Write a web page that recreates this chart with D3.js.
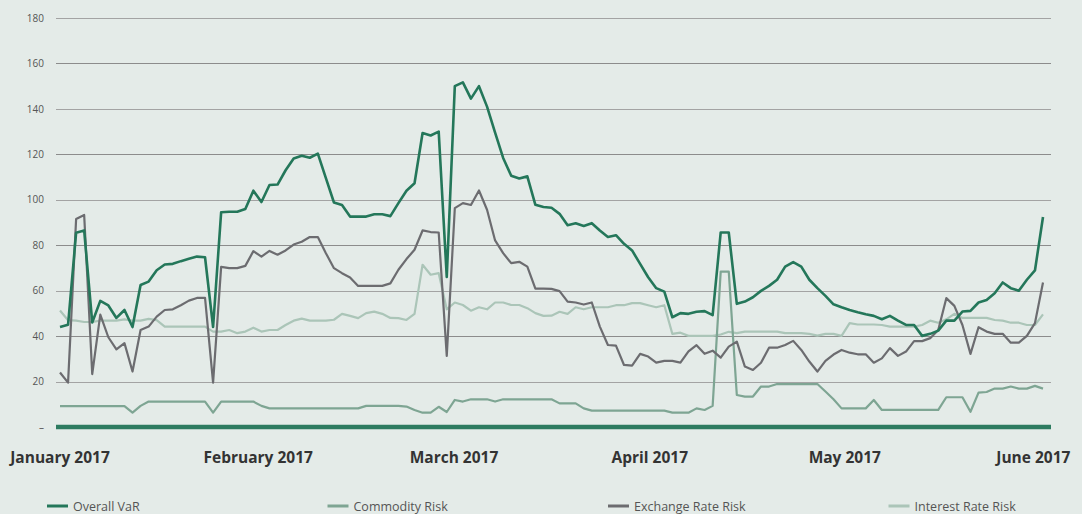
<!DOCTYPE html>
<html>
<head>
<meta charset="utf-8">
<script src="https://cdn.jsdelivr.net/npm/d3@7"></script>
<style>
  body { margin: 0; background: #e4ebe8; }
  svg { display: block; font-family: "Open Sans", "Noto Sans", sans-serif; }
</style>
</head>
<body>
<svg width="1082" height="514"></svg>
<script>
// values per trading day
var overallVar = [44, 45, 85.5, 86.5, 46, 55.5, 53.5, 48, 51.5, 44, 62.5, 64, 69, 71.5, 71.8, 73, 74, 75, 74.7, 44,
  94.5, 94.7, 94.7, 95.9, 104, 99, 106.5, 106.7, 113, 118.2, 119.4, 118.5, 120.3, 109.5, 98.8, 97.7, 92.6, 92.6, 92.6, 93.6,
  93.6, 92.8, 98.5, 104, 107.3, 129.4, 128.3, 130, 66, 150, 151.7, 144.5, 150, 141, 129.6, 118.4, 110.6, 109.4, 110.3, 97.8,
  96.8, 96.5, 93.8, 88.8, 89.7, 88.5, 89.7, 86.5, 83.6, 84.4, 80.6, 77.7, 71.8, 65.9, 61.1, 59.6, 48.3, 50.1, 49.8, 50.7,
  51, 49.2, 85.6, 85.6, 54.2, 55.2, 57.1, 59.9, 62.1, 64.8, 70.6, 72.6, 70.6, 64.8, 61.1, 57.7, 54, 52.7, 51.5, 50.5,
  49.6, 48.9, 47.4, 48.9, 46.8, 44.9, 44.9, 40.1, 41, 42.4, 46.8, 46.8, 50.8, 51.1, 54.8, 55.9, 58.9, 63.6, 61.1, 60,
  64.8, 68.9, 92.4];

var commodityRisk = [9.2, 9.2, 9.2, 9.2, 9.2, 9.2, 9.2, 9.2, 9.2, 6.3, 9.3, 11.2, 11.2, 11.2, 11.2, 11.2, 11.2, 11.2, 11.2, 6.3,
  11.2, 11.2, 11.2, 11.2, 11.2, 9.3, 8.2, 8.2, 8.2, 8.2, 8.2, 8.2, 8.2, 8.2, 8.2, 8.2, 8.2, 8.2, 9.3, 9.3,
  9.3, 9.3, 9.3, 9, 7.5, 6.3, 6.3, 8.9, 6.6, 11.9, 11.2, 12.2, 12.2, 12.2, 11.2, 12.2, 12.2, 12.2, 12.2, 12.2,
  12.2, 12.2, 10.4, 10.4, 10.4, 8.2, 7.2, 7.2, 7.2, 7.2, 7.2, 7.2, 7.2, 7.2, 7.2, 7.2, 6.3, 6.3, 6.3, 8.2,
  7.5, 9.3, 68.4, 68.4, 14.1, 13.4, 13.4, 17.8, 17.8, 18.9, 18.9, 18.9, 18.9, 18.9, 18.9, 15.6, 12.2, 8.2, 8.2, 8.2,
  8.2, 11.9, 7.5, 7.5, 7.5, 7.5, 7.5, 7.5, 7.5, 7.5, 13.1, 13.1, 13.1, 6.7, 15.1, 15.4, 16.9, 16.9, 17.8, 16.9,
  16.9, 18.1, 16.9];

var exchangeRateRisk = [24, 19.5, 91.5, 93.3, 23.3, 49.5, 39.5, 34.2, 36.9, 24.4, 42.7, 44.2, 48.6, 51.5, 51.8, 53.6, 55.6, 56.8, 56.8, 19.5,
  70.5, 69.9, 69.9, 70.9, 77.4, 75, 77.5, 75.8, 77.7, 80.3, 81.5, 83.6, 83.6, 76.5, 69.9, 67.7, 65.8, 62.1, 62.1, 62.1,
  62.1, 63.2, 69.2, 73.9, 78, 86.5, 85.8, 85.6, 31.3, 96.3, 98.5, 97.7, 104.1, 95.6, 82.1, 76.5, 72.1, 72.7, 70.6, 60.9,
  60.9, 60.8, 59.8, 55.2, 54.8, 53.9, 54.8, 44.2, 36.1, 35.8, 27.3, 27, 32.2, 31, 28.3, 29.1, 29.1, 28.3, 33.3, 36,
  32.2, 33.6, 30.5, 35.4, 37.6, 26.6, 25.1, 28.3, 34.9, 34.9, 36.1, 37.9, 33.9, 28.8, 24.4, 29.1, 31.9, 33.9, 32.7, 32,
  32, 28.3, 30.2, 34.7, 31.3, 33.2, 37.8, 37.8, 39.1, 42.7, 56.7, 53.3, 44.9, 32.2, 43.9, 42, 41, 41, 37.1, 37.1,
  40.1, 45.7, 63.6];

var interestRateRisk = [51.3, 47, 46.8, 46.2, 46.2, 46.8, 46.8, 46.8, 47.4, 46.8, 46.8, 47.6, 47, 44.2, 44.2, 44.2, 44.2, 44.2, 44.2, 42,
  42, 42.7, 41.3, 42, 43.7, 42, 42.7, 42.7, 44.9, 46.8, 47.7, 46.8, 46.8, 46.8, 47.2, 49.8, 48.9, 47.9, 50.1, 50.8,
  49.8, 48, 47.9, 47.1, 49.8, 71.4, 67, 67.7, 51.8, 54.8, 53.7, 51.2, 52.7, 51.8, 54.8, 54.8, 53.7, 53.7, 52.3, 50.1,
  48.9, 49, 50.7, 49.8, 52.7, 51.8, 52.7, 52.7, 52.7, 53.6, 53.6, 54.5, 54.5, 53.6, 52.7, 53.6, 41, 41.5, 40.1, 40.1,
  40.1, 40.1, 40.7, 41.9, 41.3, 42, 42, 42, 42, 42, 41.3, 41.3, 41.3, 41, 40.2, 41, 41, 40.1, 45.7, 45.1,
  45.1, 45.1, 44.9, 44.2, 44.2, 44.2, 44.2, 44.9, 46.8, 45.9, 47.4, 49.8, 48, 48, 48, 48, 47.1, 46.8, 45.9, 45.9,
  44.9, 44.9, 49.6];

var monthLabels = ["January 2017", "February 2017", "March 2017", "April 2017", "May 2017", "June 2017"];
var monthIndex = [0, 24.6, 48.9, 73.2, 97.4, 120.8];
var yTicks = [20, 40, 60, 80, 100, 120, 140, 160, 180];

var seriesNames = ["Overall VaR", "Commodity Risk", "Exchange Rate Risk", "Interest Rate Risk"];
var seriesColors = ["#24775a", "#7ea593", "#6c6c70", "#abc5b8"];
var seriesWidths = [2.6, 2.2, 2.2, 2.2];

var svg = d3.select("svg");

var x = d3.scaleLinear().domain([0, overallVar.length - 1]).range([60, 1043]);
var y = d3.scaleLinear().domain([0, 180]).range([427, 18]);

// gridlines
svg.append("g")
  .selectAll("line")
  .data(yTicks)
  .enter().append("line")
    .attr("x1", 56).attr("x2", 1051)
    .attr("y1", function(d) { return Math.round(y(d)) + 0.5; })
    .attr("y2", function(d) { return Math.round(y(d)) + 0.5; })
    .attr("stroke", function(d, i) { return i % 2 ? "#8c8c8c" : "#a3a3a3"; })
    .attr("stroke-width", 1);

// y labels
var yAxis = d3.axisLeft(y).tickValues([0].concat(yTicks)).tickSize(0)
  .tickFormat(function(d) { return d === 0 ? "–" : d; });

svg.append("g")
  .attr("transform", "translate(44,0)")
  .call(yAxis)
  .call(function(g) { g.select(".domain").remove(); })
  .selectAll("text")
    .attr("font-size", 10)
    .attr("font-family", "Open Sans, sans-serif")
    .attr("fill", "#555")
    .attr("x", 0);

// lines, drawn back to front
var line = d3.line()
  .x(function(d, i) { return x(i); })
  .y(function(d) { return y(d); });

var allSeries = [overallVar, commodityRisk, exchangeRateRisk, interestRateRisk];
var drawOrder = [3, 1, 2, 0];

drawOrder.forEach(function(k) {
  svg.append("path")
    .datum(allSeries[k])
    .attr("fill", "none")
    .attr("stroke", seriesColors[k])
    .attr("stroke-width", seriesWidths[k])
    .attr("stroke-linejoin", "round")
    .attr("d", line);
});

// heavy base line at zero
svg.append("line")
  .attr("x1", 56).attr("x2", 1051)
  .attr("y1", y(0)).attr("y2", y(0))
  .attr("stroke", "#2d7b60")
  .attr("stroke-width", 4.5);

// month labels
svg.append("g")
  .selectAll("text")
  .data(monthLabels)
  .enter().append("text")
    .attr("x", function(d, i) { return x(monthIndex[i]); })
    .attr("y", 463)
    .attr("text-anchor", "middle")
    .attr("font-size", 15.5)
    .attr("font-weight", "bold")
    .attr("fill", "#333")
    .text(function(d) { return d; });

// legend
var legend = svg.append("g")
  .selectAll("g")
  .data(seriesNames)
  .enter().append("g")
    .attr("transform", function(d, i) { return "translate(" + (47 + i * 280.5) + ",506)"; });

legend.append("line")
  .attr("x1", 0).attr("x2", 21)
  .attr("stroke", function(d, i) { return seriesColors[i]; })
  .attr("stroke-width", 3);

legend.append("text")
  .attr("x", 26)
  .attr("y", 4.5)
  .attr("font-size", 12.5)
  .attr("fill", "#555")
  .text(function(d) { return d; });
</script>
</body>
</html>
